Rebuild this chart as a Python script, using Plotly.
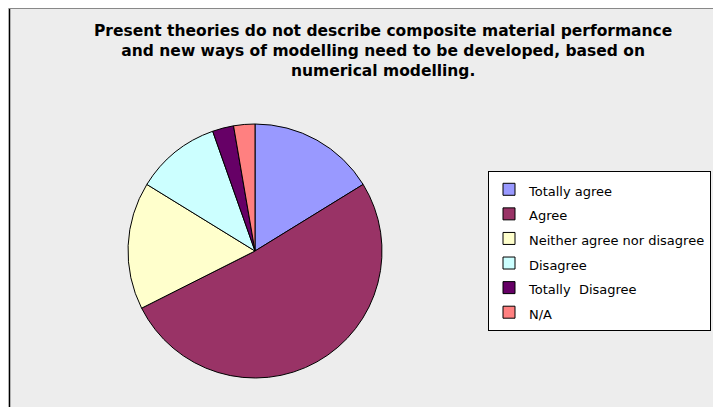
import plotly.graph_objects as go

# Page offset: the HTML body has an 8px margin, so the figure origin sits at (8, 8)
OFF = 8
W, H = 721 - OFF, 407 - OFF

labels = ["Totally agree", "Agree", "Neither agree nor disagree", "Disagree", "Totally  Disagree", "N/A"]
values = [6, 19, 6, 4, 1, 1]
colors = ["#9999FF", "#993366", "#FFFFCC", "#CCFFFF", "#660066", "#FF8080"]
title_text = ("Present theories do not describe composite material performance<br>"
              "and new ways of modelling need to be developed, based on<br>"
              "numerical modelling.")

def px_x(p):
    return (p - OFF) / W

def px_y(p):
    return 1 - (p - OFF) / H

cx, cy, r = 255, 251, 127

fig = go.Figure(go.Pie(
    labels=[f"<span style='font-size:13px'>{l}</span>" for l in labels],
    values=values,
    sort=False,
    direction="clockwise",
    rotation=0,
    marker=dict(colors=colors, line=dict(color="black", width=1)),
    textinfo="none",
    hoverinfo="label+value+percent",
    domain=dict(x=[px_x(cx - r), px_x(cx + r)], y=[px_y(cy + r), px_y(cy - r)]),
))

fig.update_layout(
    width=W, height=H,
    margin=dict(l=0, r=0, t=0, b=0, autoexpand=False),
    paper_bgcolor="#EDEDED",
    plot_bgcolor="#EDEDED",
    showlegend=True,
    legend=dict(
        x=px_x(488), y=px_y(171), xanchor="left", yanchor="top",
        bgcolor="white", bordercolor="black", borderwidth=1,
        font=dict(family="DejaVu Sans", size=16.6, color="black"),
        itemclick=False, itemdoubleclick=False,
    ),
    annotations=[dict(
        text=title_text, x=px_x(383), y=px_y(20), xref="paper", yref="paper",
        xanchor="center", yanchor="top", showarrow=False,
        font=dict(family="DejaVu Sans", size=15.5, color="black", weight="bold"),
        align="center",
    )],
    shapes=[
        dict(type="line", xref="paper", yref="paper", x0=px_x(9.5), x1=px_x(9.5), y0=0, y1=1,
             line=dict(color="black", width=1.5), layer="below"),
        dict(type="line", xref="paper", yref="paper", x0=px_x(9), x1=1, y0=0.999, y1=0.999,
             line=dict(color="#888888", width=1.2), layer="below"),
    ],
)

fig.write_html("out.html")
